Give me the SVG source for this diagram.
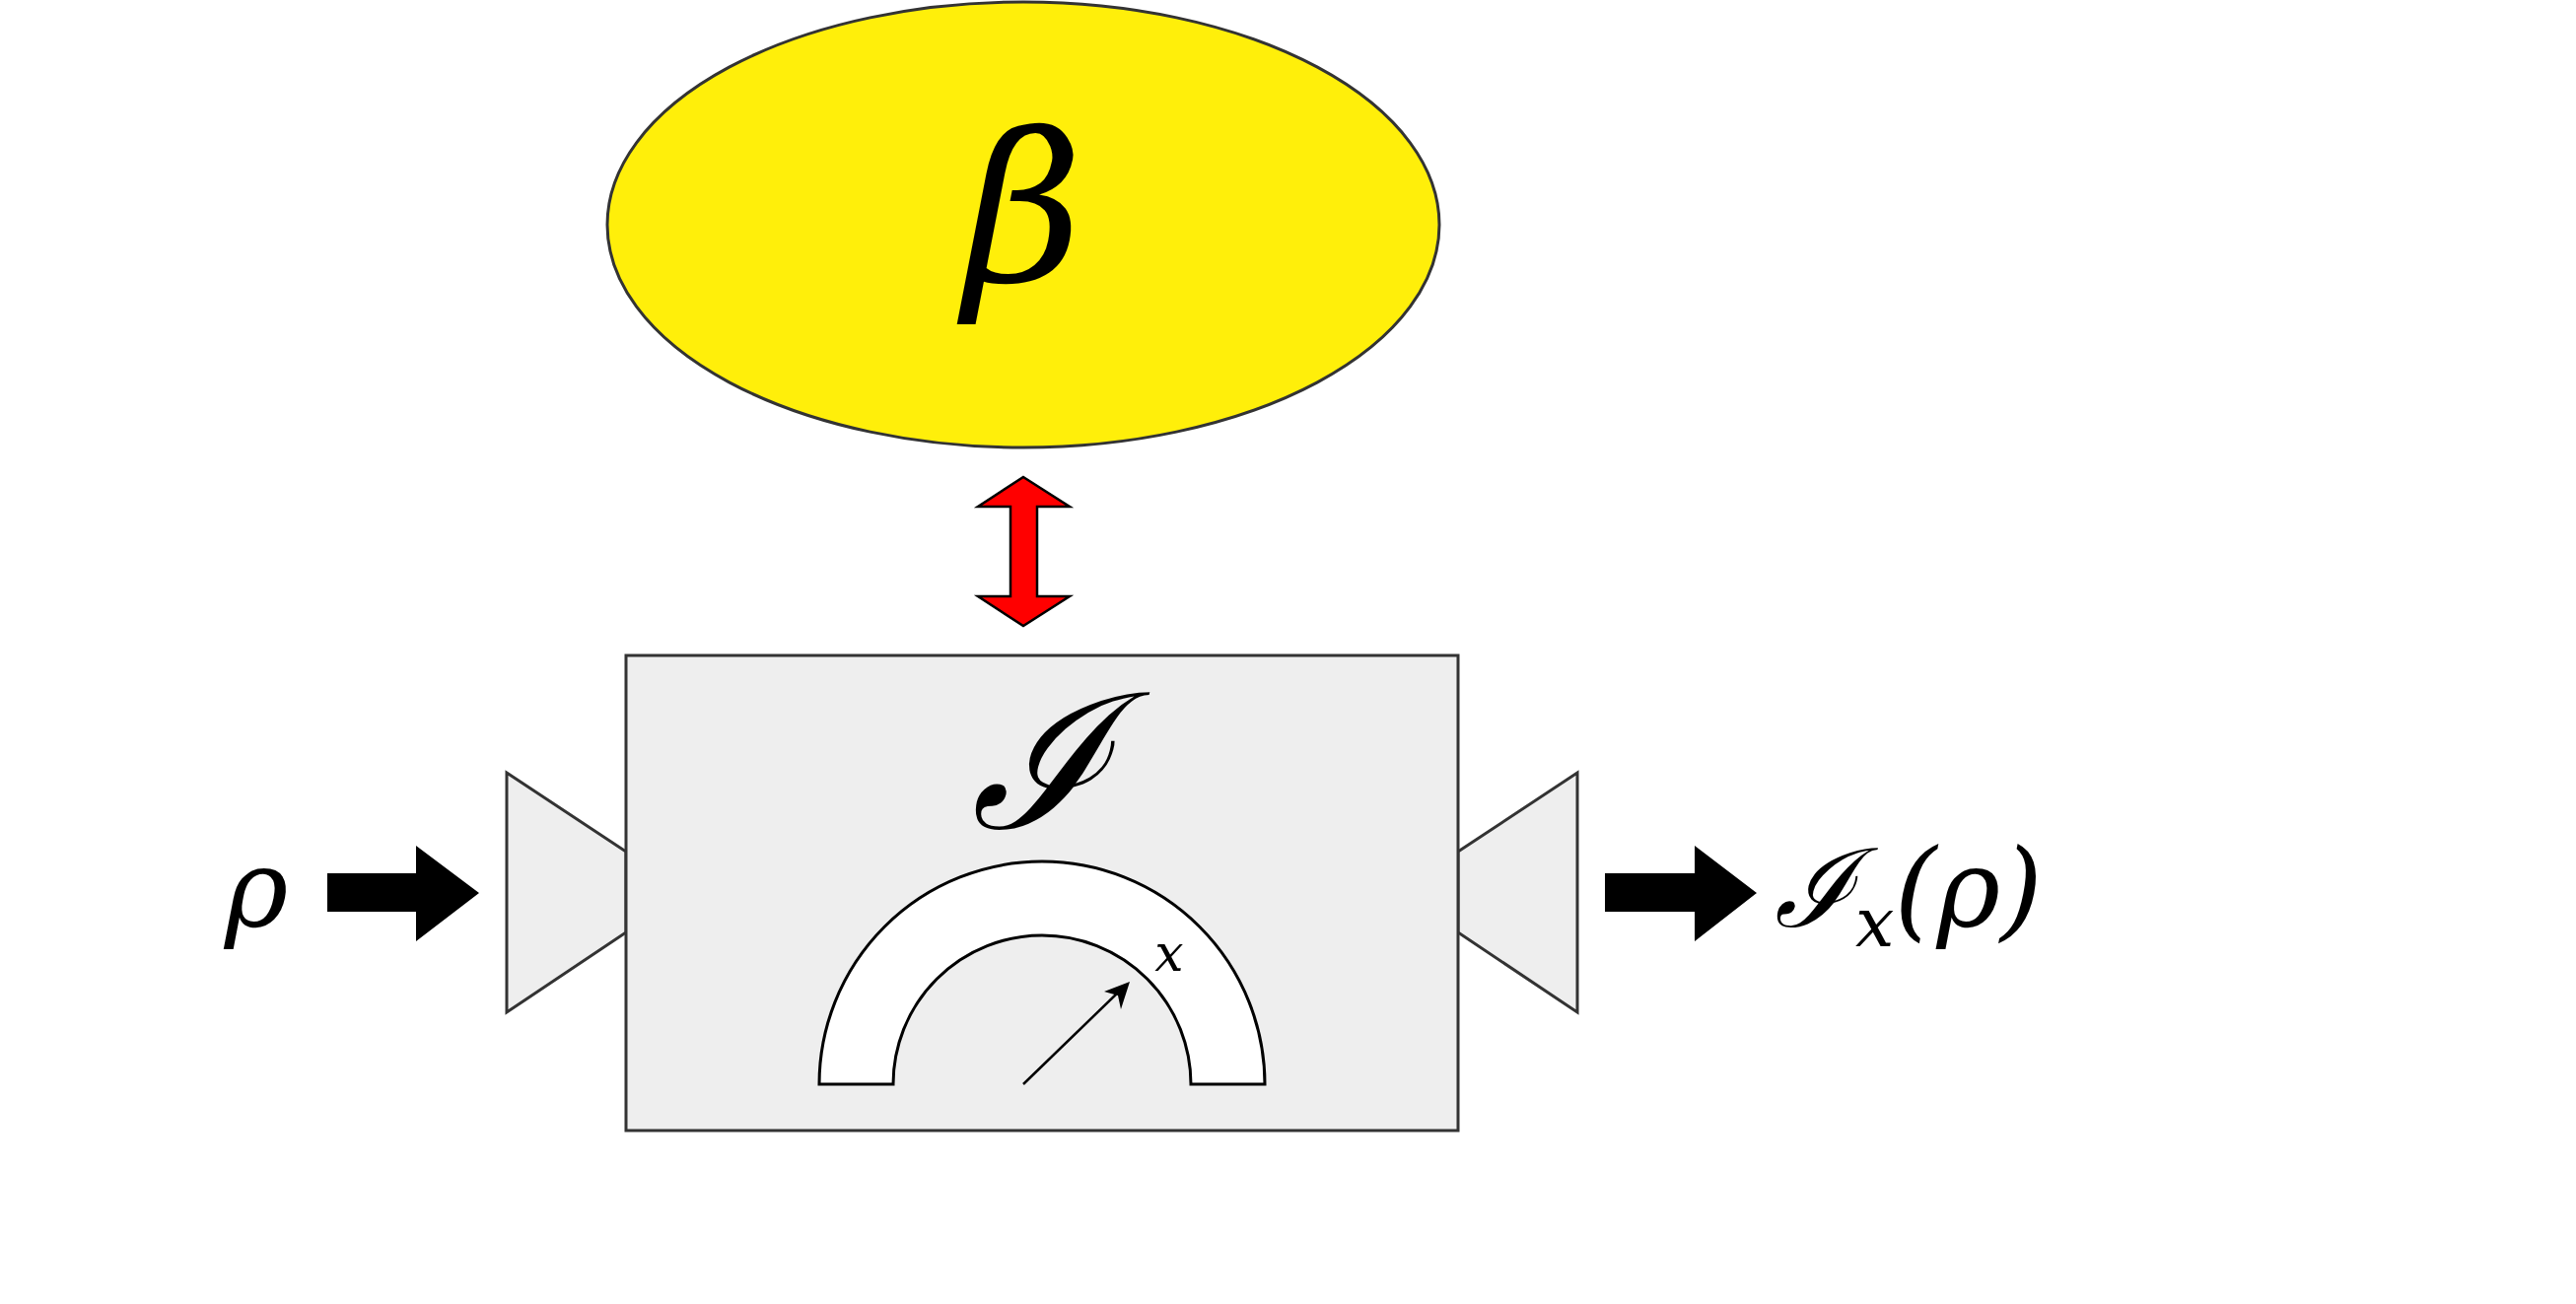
<svg xmlns="http://www.w3.org/2000/svg" width="2613" height="1323" viewBox="0 0 2613 1323">
<style>
.m{font-family:"DejaVu Serif","Liberation Serif",serif;font-style:italic;fill:#000}
.g{fill:#eeeeee;stroke:#333;stroke-width:3}
</style>
<defs><marker id="ah" markerWidth="10" markerHeight="10" refX="9" refY="5" orient="auto" markerUnits="userSpaceOnUse" viewBox="0 0 10 10"><path d="M0,0L10,5L0,10z"/></marker></defs>
<rect width="2613" height="1323" fill="#fff"/>
<g id="beta"><ellipse cx="1038" cy="228" rx="422" ry="226" fill="#ffef0a" stroke="#333" stroke-width="3"/><text class="m" x="1038" y="285" font-size="210" text-anchor="middle">β</text></g>
<g id="left-port"><polygon class="g" points="514,784 635,864 635,946 514,1027"/></g>
<g id="right-port"><polygon class="g" points="1479,864 1600,784 1600,1027 1479,946"/></g>
<g id="instrument">
<rect class="g" x="635" y="665" width="844" height="482"/>
<text class="m" x="1055" y="840" font-size="190" text-anchor="middle">ℐ</text>
<path d="M831,1100 A226,226 0 0 1 1283,1100 L1208,1100 A151,151 0 0 0 906,1100 Z" fill="#fff" stroke="#000" stroke-width="3"/>
<line x1="1038" y1="1100" x2="1134" y2="1007" stroke="#000" stroke-width="2.5"/>
<polygon points="1146,996 1120,1006 1134,1010 1137,1024"/>
<text class="m" x="1186" y="985" font-size="52" text-anchor="middle">x</text>
</g>
<g id="input"><text class="m" x="260" y="940" font-size="110" text-anchor="middle">ρ</text></g>
<g id="output"><text class="m" x="1800" y="940" font-size="110">ℐ<tspan font-size="70" dy="20">x</tspan><tspan dy="-20">(ρ)</tspan></text></g>
<g id="connectors">
<polygon points="1038,484 1085,514 1052,514 1052,605 1085,605 1038,635 992,605 1025,605 1025,514 992,514" fill="#ff0000" stroke="#000" stroke-width="2.5"/>
<polygon points="332,886 422,886 422,858 486,906 422,955 422,925 332,925"/>
<polygon points="1628,886 1719,886 1719,858 1782,906 1719,955 1719,925 1628,925"/>
</g>
</svg>
